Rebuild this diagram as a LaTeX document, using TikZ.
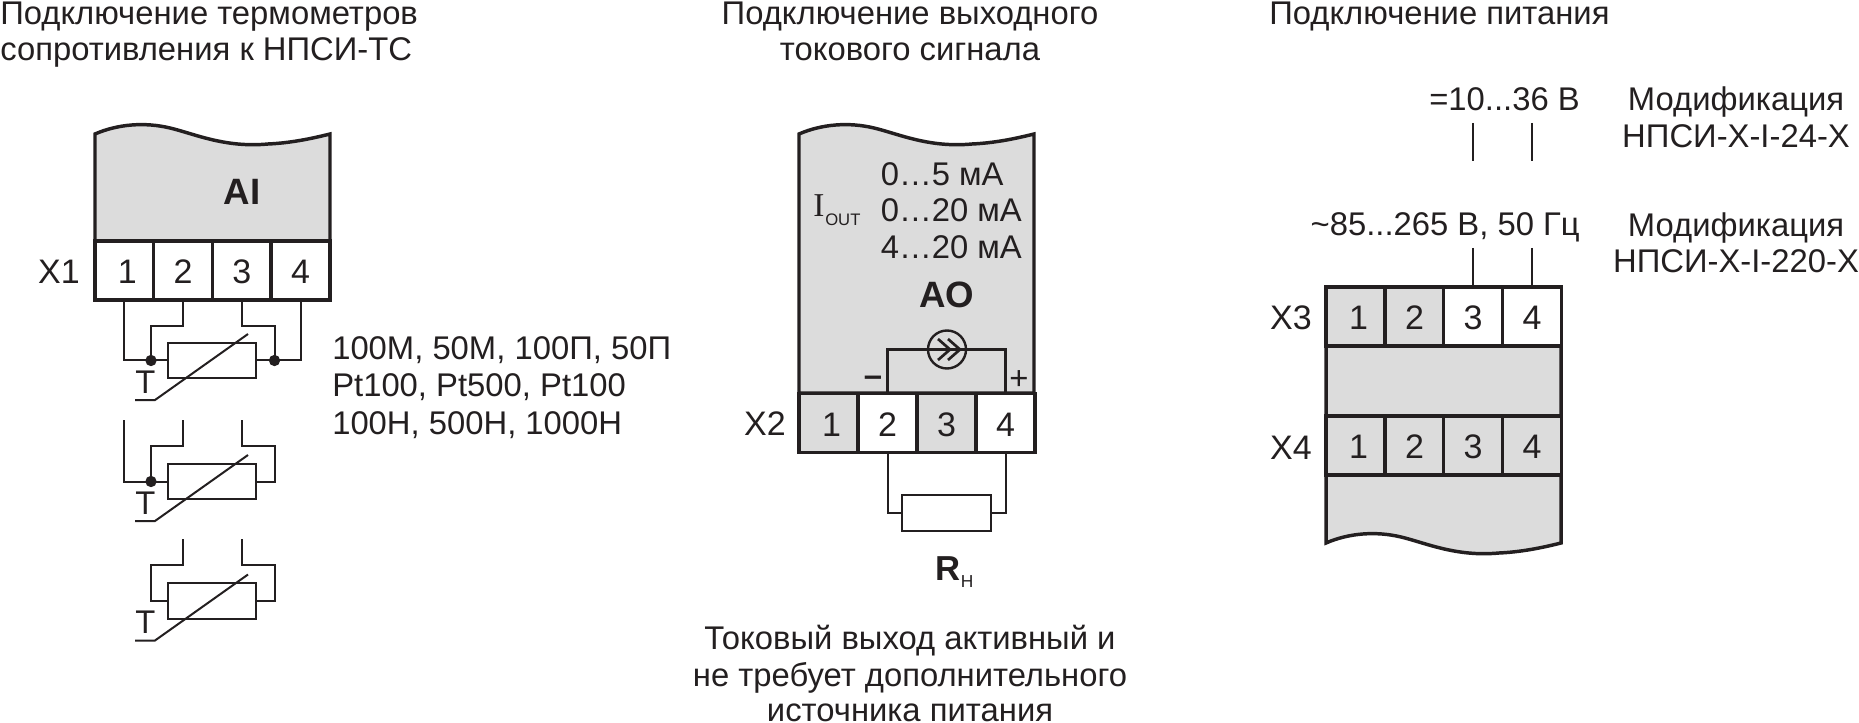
\documentclass[tikz,border=0pt]{standalone}
\usepackage{fontspec}
\setmainfont{Liberation Sans}
\newfontfamily\iserif{Liberation Serif}
\definecolor{ink}{RGB}{35,31,32}
\definecolor{panelgray}{RGB}{220,220,220}
\tikzset{
  txt/.style={anchor=base,inner sep=0pt,text=ink,font=\fontsize{24.6}{27}\selectfont},
  txtl/.style={txt,anchor=base west},
  txtb/.style={txt,font=\fontsize{27.5}{30}\selectfont\bfseries},
  term/.style={txt,anchor=east,font=\fontsize{25.5}{28}\selectfont},
  cellw/.style={draw=ink,line width=2.6pt,fill=white,minimum width=44.1pt,minimum height=44.25pt,
    inner sep=0pt,outer sep=0pt,text=ink,text height=20pt,text depth=0pt,font=\fontsize{25.5}{28}\selectfont},
  cellg/.style={cellw,fill=panelgray},
  body/.style={draw=ink,line width=2.6pt,fill=panelgray,line join=miter},
  wire/.style={draw=ink,line width=1.5pt},
  wireb/.style={draw=ink,line width=2pt},
  rtd/.style={draw=ink,line width=1.5pt,minimum width=66pt,minimum height=26.5pt,inner sep=0pt,outer sep=0pt},
  dot/.style={circle,fill=ink,inner sep=0pt,minimum size=8.5pt}
}
\newcommand{\wavecurve}{.. controls +(23,-10) and +(-25,-6) .. ++(75,-6) .. controls +(25,6) and +(-43,4) .. ++(98,16) .. controls +(22,-1) and +(-20,5) .. ++(62,-10)}
\newcommand{\first}{\hspace{4.5pt}1}
\begin{document}
\begin{tikzpicture}[x=0.75pt,y=0.75pt,yscale=-1,xscale=1]
\useasboundingbox (0,0) rectangle (1859,723);

% Titles
\node [txtl] (title1a) at (0,24.5) {Подключение термометров};
\node [txtl] (title1b) at (0,61) {сопротивления к НПСИ-ТС};
\node [txt] (title2a) at (910,24.5) {Подключение выходного};
\node [txt] (title2b) at (910,61) {токового сигнала};
\node [txtl] (title3) at (1269,24.5) {Подключение питания};

% Input module
\draw [body] (95,241) -- (95,134) \wavecurve -- (330,241) -- cycle;
\node [txtb] (ai) at (242,205) {AI};
\foreach \n/\cx/\lb in {1/124.4/\first,2/183.1/2,3/241.9/3,4/300.6/4}
  \node [cellw] (x1-\n) at (\cx,270.5) {\lb};
\node [term] (lx1) at (80,271.5) {X1};

% Sensors
\foreach \r/\cy/\by in {1/360.5/393,2/481.5/514,3/601/633} {
  \node [rtd] (rtd\r) at (212,\cy) {};
  \draw [wire] (rtd\r) ++(-77,39.5) -- ++(20,0) -- ++(93,-66);
  \node [txt] (tl\r) at (145.5,\by) {T};
}
\coordinate (d1a) at (151,360.5);
\coordinate (d1b) at (274.5,360.5);
\draw [wire] (x1-1.south) |- (rtd1.west);
\draw [wire] (x1-2.south) -- ++(0,26) -| (d1a);
\draw [wire] (x1-3.south) -- ++(0,26) -| (d1b);
\draw [wire] (x1-4.south) |- (rtd1.east);
\node [dot] (dot1a) at (d1a) {};
\node [dot] (dot1b) at (d1b) {};

\coordinate (w2a) at (124.4,420);
\coordinate (w2b) at (183.1,420);
\coordinate (w2c) at (241.9,420);
\coordinate (d2a) at (151,481.5);
\coordinate (e2) at (274.5,481.5);
\draw [wire] (w2a) |- (rtd2.west);
\draw [wire] (w2b) -- ++(0,26) -| (d2a);
\draw [wire] (w2c) -- ++(0,26) -| (e2) -- (rtd2.east);
\node [dot] (dot2a) at (d2a) {};

\coordinate (w3b) at (183.1,539);
\coordinate (w3c) at (241.9,539);
\coordinate (d3) at (151,601);
\coordinate (e3) at (274.5,601);
\draw [wire] (w3b) -- ++(0,26) -| (d3) -- (rtd3.west);
\draw [wire] (w3c) -- ++(0,26) -| (e3) -- (rtd3.east);

\node [txtl] (types1) at (332,360) {100М, 50М, 100П, 50П};
\node [txtl] (types2) at (332,397) {Pt100, Pt500, Pt100};
\node [txtl] (types3) at (332,434) {100Н, 500Н, 1000Н};

% Output module
\draw [body] (799,393) -- (799,134) \wavecurve -- (1034,393) -- cycle;
\foreach \n/\cx/\st/\lb in {1/828.5/cellg/\first,2/887.5/cellw/2,3/946.5/cellg/3,4/1005.5/cellw/4}
  \node [\st] (x2-\n) at (\cx,423) {\lb};
\node [term] (lx2) at (786,424) {X2};
\node [txtl] (iout) at (813,217) {\iserif\fontsize{25}{27}\selectfont I};
\node [txtl,font=\fontsize{12.5}{14}\selectfont] (ioutsub) at (825,226) {OUT};
\node [txtl] (range1) at (880.5,185.5) {0…5 мА};
\node [txtl] (range2) at (880.5,222) {0…20 мА};
\node [txtl] (range3) at (880.5,259) {4…20 мА};
\node [txtb] (ao) at (947,308) {AO};
\node [txt,anchor=center,font=\fontsize{24.6}{27}\selectfont\bfseries] (minus) at (873,381) {–};
\node [txt,anchor=center] (plus) at (1019,380) {+};
\node [circle,draw=ink,line width=1.8pt,fill=panelgray,minimum size=28.5pt,inner sep=0pt,outer sep=0pt] (isrc) at (947,349.5) {};
\draw [wireb] (x2-2.north) |- (isrc.west);
\draw [wireb] (x2-4.north) |- (isrc.east);
\draw [wireb] (isrc.west) -- (isrc.east);
\draw [wireb] (isrc) ++(-9,-10.5) -- ++(12,10.5) -- ++(-12,10.5);
\draw [wireb] (isrc) ++(1,-10.5) -- ++(12,10.5) -- ++(-12,10.5);

% Load
\node [rtd,minimum width=66.5pt,minimum height=27pt] (load) at (946.5,513) {};
\draw [wire] (x2-2.south) |- (load.west);
\draw [wire] (x2-4.south) |- (load.east);
\node [txtl,font=\fontsize{26}{28}\selectfont\bfseries] (rn) at (935.5,580) {R};
\node [txtl,font=\fontsize{13}{15}\selectfont] (rnsub) at (960.5,587) {Н};

\node [txt] (note1) at (910,649) {Токовый выход активный и};
\node [txt] (note2) at (910,686) {не требует дополнительного};
\node [txt] (note3) at (910,721.5) {источника питания};

% Power module
\draw [body] (1326,287) -- (1326,543) \wavecurve -- (1561,287) -- cycle;
\foreach \n/\cx/\st/\lb in {1/1355.5/cellg/\first,2/1414.5/cellg/2,3/1473/cellw/3,4/1532/cellw/4}
  \node [\st] (x3-\n) at (\cx,316.5) {\lb};
\foreach \n/\cx/\lb in {1/1355.5/\first,2/1414.5/2,3/1473/3,4/1532/4}
  \node [cellg] (x4-\n) at (\cx,445.5) {\lb};
\node [term] (lx3) at (1312,318) {X3};
\node [term] (lx4) at (1312,447.5) {X4};

\coordinate (pa) at (1473,248);
\coordinate (pb) at (1532,248);
\draw [wireb] (pa) -- (x3-3.north);
\draw [wireb] (pb) -- (x3-4.north);
\coordinate (qa) at (1473,123);
\coordinate (qb) at (1532,123);
\coordinate (qc) at (1473,161);
\coordinate (qd) at (1532,161);
\draw [wireb] (qa) -- (qc);
\draw [wireb] (qb) -- (qd);

\node [txt,anchor=base east] (dc) at (1580,111) {=10...36 В};
\node [txt,anchor=base east] (ac) at (1580,236) {\textasciitilde 85...265 В, 50 Гц};
\node [txt] (mod1a) at (1736,111) {Модификация};
\node [txt] (mod1b) at (1736,148) {НПСИ-Х-I-24-Х};
\node [txt] (mod2a) at (1736,236.5) {Модификация};
\node [txt] (mod2b) at (1736,273) {НПСИ-Х-I-220-Х};
\end{tikzpicture}
\end{document}
